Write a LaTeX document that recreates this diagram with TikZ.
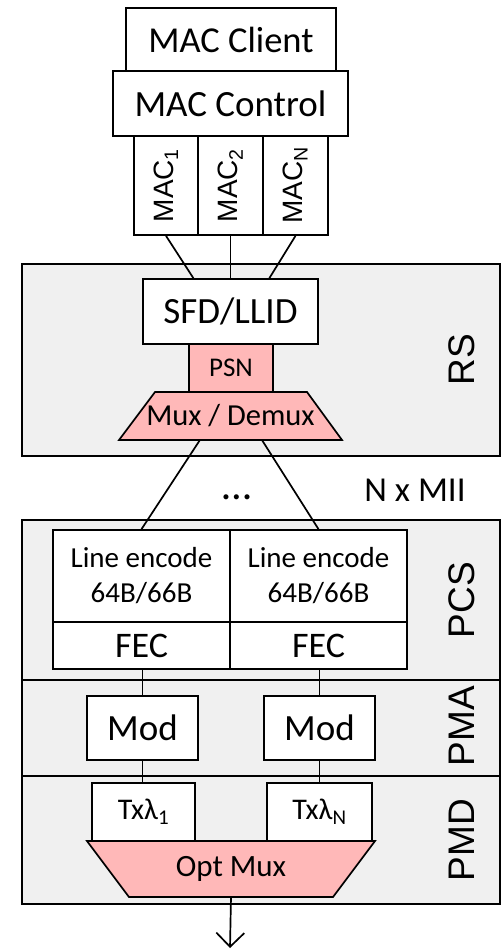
\documentclass[tikz,border=0pt]{standalone}
\usepackage{fontspec}
\setmainfont{Carlito}
\newfontfamily\arialfont{Liberation Sans}
\usetikzlibrary{calc,arrows.meta}
\definecolor{layergray}{HTML}{F0F0F0}
\definecolor{pinkfill}{HTML}{FFB8B8}
\begin{document}
\begin{tikzpicture}[x=1pt,y=-1pt,
  line width=1.7pt,
  box/.style={draw, fill=white, inner sep=0pt, align=center},
  pinkbox/.style={draw, fill=pinkfill, inner sep=0pt, align=center},
  layer/.style={draw, fill=layergray, inner sep=0pt},
  layerlabel/.style={font=\arialfont\fontsize{37}{40}\selectfont, rotate=90, inner sep=0pt},
  maclabel/.style={font=\arialfont\fontsize{28}{32}\selectfont, rotate=90, inner sep=0pt},
  txt/.style={inner sep=0pt, align=center}
]
\useasboundingbox (0,0) rectangle (502,951);

% layer backgrounds
\node[layer, minimum width=478pt, minimum height=192pt] (rs) at (261,360) {};
\node[layer, minimum width=478pt, minimum height=160pt] (pcs) at (261,600) {};
\node[layer, minimum width=478pt, minimum height=96pt] (pma) at (261,728) {};
\node[layer, minimum width=478pt, minimum height=128pt] (pmd) at (261,840) {};
\node[layerlabel] (rslabel) at (462,360) {RS};
\node[layerlabel] (pcslabel) at (462,600) {PCS};
\node[layerlabel] (pmalabel) at (462,726) {PMA};
\node[layerlabel] (pmdlabel) at (462,840) {PMD};

% MAC stack
\node[box, minimum width=210pt, minimum height=63pt, font=\fontsize{36.5}{40}\selectfont] (client) at (231,39.5) {MAC Client};
\node[box, minimum width=235pt, minimum height=65pt, font=\fontsize{37}{40}\selectfont] (control) at (230.5,103.5) {MAC Control};
\node[box, minimum width=64pt, minimum height=99pt] (mac1) at (166,185.5) {};
\node[box, minimum width=65pt, minimum height=99pt] (mac2) at (230.5,185.5) {};
\node[box, minimum width=65pt, minimum height=99pt] (macN) at (295.5,185.5) {};
\node[maclabel] (mac1t) at (mac1) {MAC\textsubscript{1}};
\node[maclabel] (mac2t) at (mac2) {MAC\textsubscript{2}};
\node[maclabel] (macNt) at (macN) {MAC\textsubscript{N}};

% RS contents
\node[box, minimum width=175pt, minimum height=65pt, font=\fontsize{37}{40}\selectfont] (sfd) at (230.5,311.5) {SFD/LLID};
\node[pinkbox, minimum width=84pt, minimum height=48pt, font=\fontsize{27}{30}\selectfont] (psn) at (231,368) {PSN};
\coordinate (muxTL) at (155,392);
\coordinate (muxTR) at (307,392);
\coordinate (muxBR) at (342,440);
\coordinate (muxBL) at (119,440);
\draw[fill=pinkfill] (muxTL) -- (muxTR) -- (muxBR) -- (muxBL) -- cycle;
\node[txt, font=\fontsize{30.5}{32}\selectfont] (mux) at (230.5,416) {Mux / Demux};

\draw (mac1.south) -- ($(sfd.north west)!0.29!(sfd.north east)$);
\draw (mac2.south) -- (mac2.south |- sfd.north);
\draw (macN.south) -- ($(sfd.north west)!0.72!(sfd.north east)$);

% N x MII
\node[txt, font=\fontsize{42}{44}\selectfont] (dots) at (237,497) {\ldots};
\node[txt, font=\fontsize{35}{40}\selectfont] (nxmii) at (415,490) {N x MII};

% PCS contents
\node[box, minimum width=177pt, minimum height=92pt, font=\fontsize{29}{35}\selectfont] (le1) at (141.5,576) {Line encode\\64B/66B};
\node[box, minimum width=177pt, minimum height=92pt, font=\fontsize{29}{35}\selectfont] (le2) at (318.5,576) {Line encode\\64B/66B};
\node[box, minimum width=177pt, minimum height=47pt, font=\fontsize{36}{40}\selectfont] (fec1) at (141.5,645.5) {FEC};
\node[box, minimum width=177pt, minimum height=47pt, font=\fontsize{36}{40}\selectfont] (fec2) at (318.5,645.5) {FEC};

\draw ($(muxBL)!0.363!(muxBR)$) -- (le1.north);
\draw ($(muxBL)!0.641!(muxBR)$) -- (le2.north);

% PMA contents
\node[box, minimum width=111pt, minimum height=64pt, font=\fontsize{37}{40}\selectfont] (mod1) at (142.5,728) {Mod};
\node[box, minimum width=111pt, minimum height=64pt, font=\fontsize{37}{40}\selectfont] (mod2) at (319.5,728) {Mod};
\draw (mod1.north) -- (mod1.north |- fec1.south);
\draw (mod2.north) -- (mod2.north |- fec2.south);

% PMD contents
\node[box, minimum width=103pt, minimum height=58pt, font=\fontsize{30}{32}\selectfont] (tx1) at (143.5,812) {Txλ\textsubscript{1}};
\node[box, minimum width=105pt, minimum height=58pt, font=\fontsize{30}{32}\selectfont] (tx2) at (319.5,812) {Txλ\textsubscript{N}};
\draw (mod1.south) -- (mod1.south |- tx1.north);
\draw (mod2.south) -- (mod2.south |- tx2.north);

\coordinate (omTL) at (87,841);
\coordinate (omTR) at (375,841);
\coordinate (omBR) at (333,897);
\coordinate (omBL) at (129,897);
\draw[fill=pinkfill] (omTL) -- (omTR) -- (omBR) -- (omBL) -- cycle;
\node[txt, font=\fontsize{31}{34}\selectfont] (optmux) at (231,869) {Opt Mux};
\coordinate (out) at (230,948);
\draw[-{Straight Barb[length=14pt,width=28pt,line width=1.7pt]}] ($(omBL)!0.5!(omBR)$) -- (out);
\end{tikzpicture}
\end{document}
